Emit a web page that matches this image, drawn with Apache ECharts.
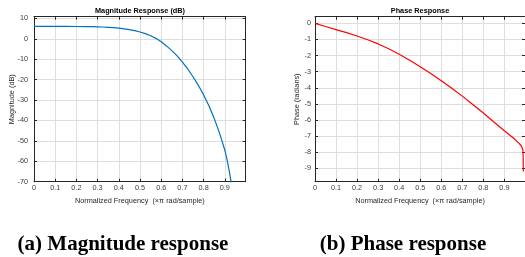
<!DOCTYPE html>
<html>
<head>
<meta charset="utf-8">
<script src="https://cdn.jsdelivr.net/npm/echarts@6/dist/echarts.min.js"></script>
<style>
  html, body { margin: 0; padding: 0; background: #fff; }
  #main { width: 525px; height: 257px; }
</style>
</head>
<body>
<div id="main"></div>
<script>
// frequency (x pi rad/sample) and magnitude (dB)
var magFreq = [0, 0.05, 0.1, 0.15, 0.2, 0.25, 0.275, 0.3, 0.325, 0.35, 0.375, 0.4, 0.425, 0.45, 0.475, 0.5, 0.525, 0.55, 0.575, 0.6, 0.625, 0.65, 0.675, 0.7, 0.725, 0.75, 0.775, 0.8, 0.825, 0.85, 0.875, 0.9, 0.91, 0.92, 0.93, 0.94]
var magDb = [6.02, 6.02, 6.02, 6.02, 6.01, 5.97, 5.93, 5.86, 5.75, 5.6, 5.42, 5.17, 4.85, 4.45, 3.95, 3.3, 2.5, 1.5, 0.2, -1.5, -3.5, -5.8, -8.4, -11.4, -14.8, -18.6, -22.8, -27.5, -32.8, -39, -46.2, -54.5, -59, -64.3, -70.3, -77]

// phase (radians)
var phaseFreq = [0, 0.05, 0.1, 0.15, 0.2, 0.25, 0.3, 0.35, 0.4, 0.45, 0.5, 0.55, 0.6, 0.65, 0.7, 0.75, 0.8, 0.85, 0.9, 0.95, 0.97, 0.98, 0.985, 0.988, 0.9893, 0.99]
var phaseRad = [0, -0.2, -0.39, -0.58, -0.79, -1.02, -1.28, -1.58, -1.92, -2.29, -2.69, -3.11, -3.56, -4.03, -4.52, -5.04, -5.57, -6.12, -6.67, -7.2, -7.45, -7.6, -7.72, -7.85, -8.3, -9.2]

var freqTicks = [0, 0.1, 0.2, 0.3, 0.4, 0.5, 0.6, 0.7, 0.8, 0.9]
var magTicks = [-70, -60, -50, -40, -30, -20, -10, 0, 10]
var phaseTicks = [-9, -8, -7, -6, -5, -4, -3, -2, -1, 0]

var chartDom = document.getElementById('main')
var myChart = echarts.init(chartDom)

var font = 'Liberation Sans, Arial, sans-serif'
var ink = '#262626'
var gridColor = '#dedede'

function pairs(xs, ys) {
  return xs.map(function (x, i) { return [x, ys[i]] })
}

// one box = bottom/top x axes + left/right y axes, ticks pointing in
function xAxes(gi, name) {
  var base = {
    type: 'value', gridIndex: gi, min: 0, max: 0.998,
    axisLine: { show: true, onZero: false, lineStyle: { color: ink, width: 1 } },
    axisTick: { show: true, inside: true, length: 3, customValues: freqTicks, lineStyle: { color: ink } },
  }
  return [
    Object.assign({}, base, {
      position: 'bottom',
      name: name, nameLocation: 'middle', nameGap: 16, nameMoveOverlap: false,
      nameTextStyle: { fontFamily: font, fontSize: 7.3, color: ink },
      axisLabel: { customValues: freqTicks, margin: 3, fontFamily: font, fontSize: 7.3, color: '#404040' },
      splitLine: { show: true, lineStyle: { color: gridColor, width: 1 } },
    }),
    Object.assign({}, base, {
      position: 'top',
      axisLabel: { show: false },
      splitLine: { show: false },
    }),
  ]
}

function yAxes(gi, min, max, ticks, name, gap, margin) {
  var base = {
    type: 'value', gridIndex: gi, min: min, max: max,
    axisLine: { show: true, onZero: false, lineStyle: { color: ink, width: 1 } },
    axisTick: { show: true, inside: true, length: 3, customValues: ticks, lineStyle: { color: ink } },
  }
  return [
    Object.assign({}, base, {
      position: 'left',
      name: name, nameLocation: 'middle', nameGap: gap, nameMoveOverlap: false,
      nameTextStyle: { fontFamily: font, fontSize: 7.3, color: ink },
      axisLabel: { customValues: ticks, margin: margin, fontFamily: font, fontSize: 7.3, color: '#404040' },
      splitLine: { show: true, lineStyle: { color: gridColor, width: 1 } },
    }),
    Object.assign({}, base, {
      position: 'right',
      axisLabel: { show: false },
      splitLine: { show: false },
    }),
  ]
}

var xs = xAxes(0, 'Normalized Frequency  (\u00d7\u03c0 rad/sample)').concat(
  xAxes(1, 'Normalized Frequency  (\u00d7\u03c0 rad/sample)'))
var ys = yAxes(0, -70, 10.8, magTicks, 'Magnitude (dB)', 18.5, 6).concat(
  yAxes(1, -9.83, 0.41, phaseTicks, 'Phase (radians)', 15, 4))

var option = {
  animation: false,
  backgroundColor: '#fff',
  grid: [
    { left: 34, top: 16.7, width: 211.6, height: 165 },
    { left: 315, top: 16.7, width: 211, height: 165 },
  ],
  xAxis: xs,
  yAxis: ys,
  series: [
    {
      type: 'line', xAxisIndex: 0, yAxisIndex: 0,
      data: pairs(magFreq, magDb),
      showSymbol: false, clip: true,
      lineStyle: { color: '#0072BD', width: 1.2 },
    },
    {
      type: 'line', xAxisIndex: 2, yAxisIndex: 2,
      data: pairs(phaseFreq, phaseRad),
      showSymbol: false, clip: true,
      lineStyle: { color: '#FF0000', width: 1.2 },
    },
  ],
  graphic: [
    { type: 'text', x: 140, y: 11, style: { text: 'Magnitude Response (dB)', fill: '#000', font: 'bold 7.3px ' + font, textAlign: 'center', textVerticalAlign: 'middle' } },
    { type: 'text', x: 420, y: 11, style: { text: 'Phase Response', fill: '#000', font: 'bold 7.3px ' + font, textAlign: 'center', textVerticalAlign: 'middle' } },
    { type: 'text', x: 123, y: 245, style: { text: '(a) Magnitude response', fill: '#000', font: 'bold 21px Liberation Serif, Times New Roman, serif', textAlign: 'center', textVerticalAlign: 'middle' } },
    { type: 'text', x: 403, y: 245, style: { text: '(b) Phase response', fill: '#000', font: 'bold 21px Liberation Serif, Times New Roman, serif', textAlign: 'center', textVerticalAlign: 'middle' } },
  ],
}

option && myChart.setOption(option)
</script>
</body>
</html>
